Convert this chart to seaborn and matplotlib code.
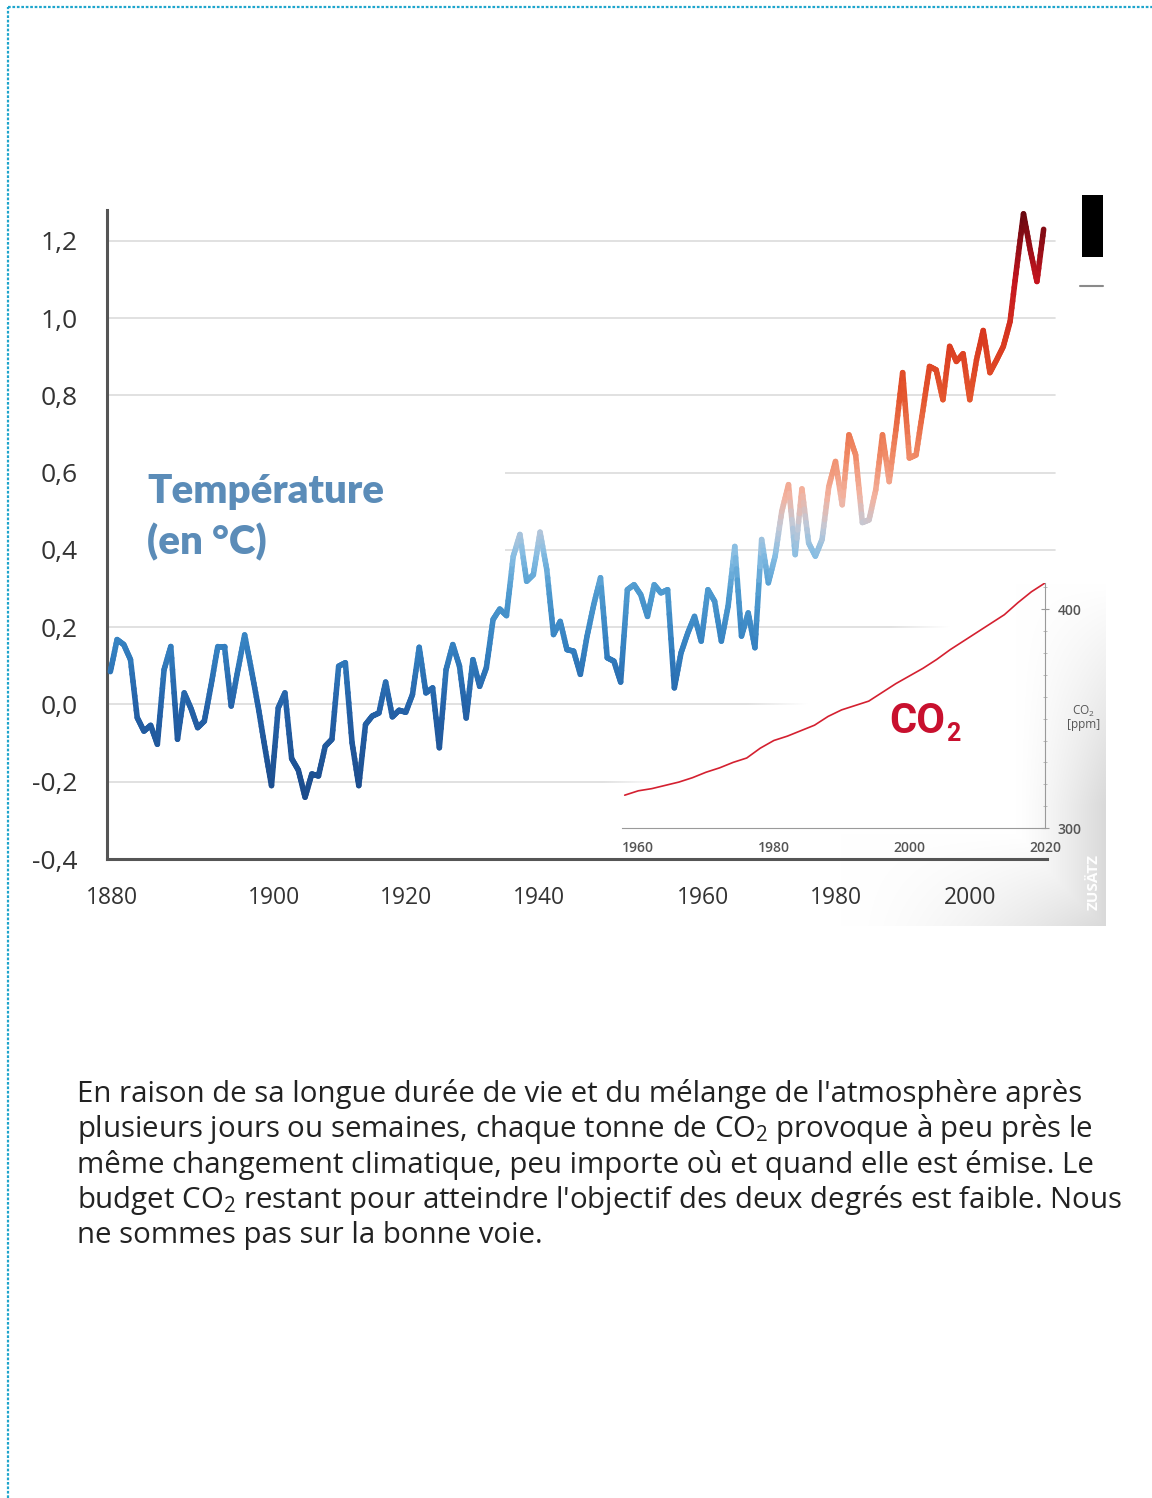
import numpy as np
import matplotlib
matplotlib.use("Agg")
import matplotlib.pyplot as plt
import seaborn as sns
from matplotlib.collections import LineCollection
from matplotlib.colors import LinearSegmentedColormap, Normalize
from matplotlib.patches import Rectangle
from matplotlib.lines import Line2D

# ── data ────────────────────────────────────────────────────────────────
years = list(range(1880, 2020))
temp_anomaly = [
    0.085, 0.168, 0.155, 0.116, -0.034, -0.069, -0.054, -0.103, 0.09, 0.15,
    -0.09, 0.03, -0.01, -0.06, -0.043, 0.05, 0.15, 0.15, -0.004, 0.09,
    0.18, 0.09, -0.004, -0.11, -0.21, -0.009, 0.03, -0.14, -0.17, -0.24,
    -0.18, -0.185, -0.108, -0.09, 0.099, 0.108, -0.099, -0.21, -0.052, -0.03,
    -0.022, 0.058, -0.032, -0.015, -0.02, 0.026, 0.148, 0.03, 0.043, -0.112,
    0.09, 0.155, 0.099, -0.035, 0.116, 0.047, 0.095, 0.22, 0.247, 0.23,
    0.383, 0.44, 0.319, 0.336, 0.446, 0.349, 0.181, 0.215, 0.142, 0.138,
    0.078, 0.177, 0.259, 0.328, 0.121, 0.112, 0.058, 0.297, 0.31, 0.284,
    0.228, 0.31, 0.289, 0.297, 0.043, 0.134, 0.185, 0.228, 0.164, 0.297,
    0.267, 0.164, 0.254, 0.409, 0.177, 0.237, 0.147, 0.427, 0.315, 0.383,
    0.50, 0.569, 0.388, 0.558, 0.418, 0.384, 0.427, 0.564, 0.629, 0.517,
    0.698, 0.646, 0.471, 0.478, 0.556, 0.698, 0.577, 0.711, 0.859, 0.638,
    0.646, 0.76, 0.875, 0.866, 0.789, 0.927, 0.888, 0.908, 0.789, 0.892,
    0.968, 0.859, 0.892, 0.927, 0.991, 1.133, 1.27, 1.177, 1.095, 1.23,
]

co2_years = [1958, 1960, 1962, 1964, 1966, 1968, 1970, 1972, 1974, 1976,
             1978, 1980, 1982, 1984, 1986, 1988, 1990, 1992, 1994, 1996,
             1998, 2000, 2002, 2004, 2006, 2008, 2010, 2012, 2014, 2016,
             2018, 2020]
co2_ppm = [315, 317, 318, 319.5, 321, 323, 325.5, 327.5, 330, 332,
           336.5, 340, 342, 344.5, 347, 351, 354, 356, 358, 362,
           366, 369.5, 373, 377, 381.5, 385.5, 389.5, 393.5, 397.5, 403,
           408, 412]

y_ticks = [-0.4, -0.3, -0.2, -0.1, 0.0, 0.1, 0.2, 0.3, 0.4, 0.5, 0.6,
           0.7, 0.8, 0.9, 1.0, 1.1, 1.2]
y_labels = ["-0,4", "", "-0,2", "", "0,0", "", "0,2", "", "0,4", "", "0,6",
            "", "0,8", "", "1,0", "", "1,2"]
grid_values = [-0.2, 0.0, 0.2, 0.4, 0.6, 0.8, 1.0, 1.2]
x_ticks = [1880, 1890, 1900, 1910, 1920, 1930, 1940, 1950, 1960, 1970,
           1980, 1990, 2000, 2010, 2020]
x_labels = ["1880", "1900", "1920", "1940", "1960", "1980", "2000"]

paragraph = [
    "En raison de sa longue durée de vie et du mélange de l'atmosphère après",
    "plusieurs jours ou semaines, chaque tonne de CO$_2$ provoque à peu près le",
    "même changement climatique, peu importe où et quand elle est émise. Le",
    "budget CO$_2$ restant pour atteindre l'objectif des deux degrés est faible. Nous",
    "ne sommes pas sur la bonne voie.",
]

# ── layout (reference pixels) ───────────────────────────────────────────
W, H = 1152, 1498
x_label_px = [112, 274, 406, 539, 703, 836, 970]


def px_x(px):
    return 1880 + (px - 107) / 6.714


def px_y(py):
    return (705 - py) / 386.7


sns.set_theme(style="white")
plt.rcParams["font.family"] = ["Open Sans", "DejaVu Sans"]
plt.rcParams["mathtext.fontset"] = "custom"
plt.rcParams["mathtext.rm"] = "Open Sans"
plt.rcParams["mathtext.it"] = "Open Sans:italic"
plt.rcParams["mathtext.bf"] = "Open Sans:bold"

fig = plt.figure(figsize=(W / 100, H / 100), dpi=100)
fig.patch.set_facecolor("white")

ax = fig.add_axes([107 / W, 1 - 859 / H, 940 / W, 649 / H])
ax.set_facecolor("none")
ax.set_axisbelow(False)
ax.grid(False)

for v in grid_values:
    ax.axhline(v, xmax=1.008, color="#dcdcdc", lw=1.2, zorder=0.5, clip_on=False)

# white box behind the label, hides the grid there
ax.add_patch(Rectangle((1880, px_y(570)), px_x(505) - 1880, px_y(460) - px_y(570),
                       facecolor="white", edgecolor="none", zorder=0.8))

# fade / grey shading behind the CO2 inset
gx0, gx1, gy0, gy1 = 600, 1105, 575, 927
X, Y = np.meshgrid(np.arange(gx0, gx1), np.arange(gy0, gy1))
d = (X - 622) + 1.85 * (Y - 782)
a_white = np.clip((d + 20) / 60, 0, 1)
t_side = np.clip((X - 1015) / 90, 0, 1) ** 1.3 * np.clip((Y - 585) / 220, 0, 1)
t_bot = np.clip((Y - 835) / 92, 0, 1) * np.clip((X - 840) / 265, 0, 1) ** 1.6
t = np.maximum(t_side, t_bot)
rgba = np.ones(X.shape + (4,))
rgba[..., :3] = (1 - 0.15 * t)[..., None]
rgba[..., 3] = np.maximum(a_white, np.clip(t * 4, 0, 1))
ax.imshow(rgba, extent=(px_x(gx0), px_x(gx1), px_y(gy1), px_y(gy0)),
          aspect="auto", interpolation="bilinear", zorder=1, clip_on=False)
ax.set_xlim(1880, 2020)
ax.set_ylim(-0.4, 1.28)

# temperature line, coloured by value (each segment split finely for a smooth gradient)
cmap = LinearSegmentedColormap.from_list("temp", [
    (0.00, "#1b4a8a"), (0.16, "#2462a8"), (0.26, "#3480c0"),
    (0.36, "#4f9bd0"), (0.42, "#86bde3"), (0.47, "#c3c9d6"),
    (0.52, "#f3b3a0"), (0.59, "#f08a66"), (0.69, "#e4562e"),
    (0.79, "#d9391f"), (0.89, "#c4141f"), (1.00, "#6a0810")])
norm = Normalize(-0.25, 1.27)
xs = np.array(years) + 0.5
ys = np.array(temp_anomaly)
frac = np.linspace(0, 1, 9)
sx = (xs[:-1, None] + (xs[1:] - xs[:-1])[:, None] * frac).ravel()
sy = (ys[:-1, None] + (ys[1:] - ys[:-1])[:, None] * frac).ravel()
pts = np.column_stack([sx, sy]).reshape(-1, 1, 2)
segs = np.concatenate([pts[:-1], pts[1:]], axis=1)
lc = LineCollection(segs, cmap=cmap, norm=norm, linewidths=4.0,
                    capstyle="round", joinstyle="round", zorder=3)
lc.set_array((sy[:-1] + sy[1:]) / 2)
ax.add_collection(lc)

for s in ["top", "right"]:
    ax.spines[s].set_visible(False)
for s in ["left", "bottom"]:
    ax.spines[s].set_color("#555555")
    ax.spines[s].set_linewidth(2.2)

ax.set_yticks(y_ticks)
ax.set_yticklabels(y_labels)
ax.set_xticks(x_ticks)
ax.tick_params(axis="y", direction="out", length=7, width=2.2, color="#555555",
               pad=14, labelsize=19, labelcolor="#333333")
ax.tick_params(axis="x", direction="out", length=8, width=2.2, color="#555555",
               labelbottom=False)

for lab, px in zip(x_labels, x_label_px):
    ax.text(px_x(px), px_y(899), lab, ha="center", va="center", fontsize=16.5,
            color="#333333", clip_on=False, zorder=5)

ax.text(px_x(147), px_y(503), "Température", fontsize=29, fontweight="heavy",
        color="#5b8cb8", family=["Lato", "DejaVu Sans"], va="baseline", zorder=4)
ax.text(px_x(147), px_y(555), "(en °C)", fontsize=29, fontweight="heavy",
        color="#5b8cb8", family=["Lato", "DejaVu Sans"], va="baseline", zorder=4)

# ── CO2 inset ───────────────────────────────────────────────────────────
axin = fig.add_axes([622 / W, 1 - 828 / H, 423 / W, 245 / H])
axin.set_facecolor("none")
sns.lineplot(x=co2_years, y=co2_ppm, ax=axin, color="#d42030", lw=1.2)
axin.set_xlim(1957.6, 2020)
axin.set_ylim(300, 412)
for s in ["top", "left"]:
    axin.spines[s].set_visible(False)
for s in ["bottom", "right"]:
    axin.spines[s].set_color("#9a9a9a")
    axin.spines[s].set_linewidth(0.8)
axin.yaxis.tick_right()
axin.set_xticks([1960, 1965, 1970, 1975, 1980, 1985, 1990, 1995, 2000,
                 2005, 2010, 2015, 2020])
axin.set_xticklabels(["1960", "", "", "", "1980", "", "", "", "2000",
                      "", "", "", "2020"])
axin.set_xticks(np.arange(1958, 2021, 1), minor=True)
axin.set_yticks([300, 400])
axin.set_yticks(np.arange(310, 411, 10), minor=True)
axin.tick_params(axis="x", which="major", direction="inout", length=6,
                 width=0.8, color="#9a9a9a", labelsize=10, labelcolor="#555555",
                 pad=6)
axin.tick_params(axis="y", which="major", direction="inout", length=6,
                 width=0.8, color="#9a9a9a", labelsize=10, labelcolor="#555555",
                 pad=6)
axin.tick_params(axis="both", which="minor", direction="inout", length=3,
                 width=0.6, color="#b0b0b0")
for lab in axin.get_xticklabels() + axin.get_yticklabels():
    lab.set_fontweight("semibold")
axin.set_xlabel("")
axin.set_ylabel("")
axin.text(1.09, 0.45, "CO$_2$\n[ppm]", transform=axin.transAxes, ha="center",
          va="center", fontsize=8.5, color="#555555", linespacing=0.9)
co_txt = axin.text(0.632, 0.435, "CO", transform=axin.transAxes, ha="left",
                   va="center", fontsize=30, fontweight="bold", color="#c8102e",
                   family=["Roboto", "DejaVu Sans"])
renderer = fig.canvas.get_renderer()
bb = co_txt.get_window_extent(renderer=renderer)
x_sub = axin.transAxes.inverted().transform((bb.x1 + 0.5, bb.y0))[0]
axin.text(x_sub, 0.385, "2", transform=axin.transAxes, ha="left", va="center",
          fontsize=18, fontweight="bold", color="#c8102e",
          family=["Roboto", "DejaVu Sans"])
axin.text(1.115, -0.22, "ZUSÄTZ", transform=axin.transAxes, rotation=90,
          ha="center", va="center", fontsize=11, fontweight="bold",
          color="white", zorder=5)

# ── decorations ─────────────────────────────────────────────────────────
fig.patches.append(Rectangle((1082 / W, 1 - 257 / H), 21 / W, 62 / H,
                             transform=fig.transFigure, facecolor="black",
                             edgecolor="none"))
fig.lines.append(Line2D([1080 / W, 1103 / W], [1 - 286 / H, 1 - 286 / H],
                        transform=fig.transFigure, color="#8a8a8a", lw=1.5))
fig.lines.append(Line2D([8 / W, 1.0], [1 - 7 / H, 1 - 7 / H],
                        transform=fig.transFigure, color="#1ea5cc", lw=1.6,
                        linestyle=(0, (1.2, 0.8))))
fig.lines.append(Line2D([8 / W, 8 / W], [0, 1 - 7 / H],
                        transform=fig.transFigure, color="#1ea5cc", lw=1.6,
                        linestyle=(0, (1.2, 0.8))))

for i, line in enumerate(paragraph):
    fig.text(77 / W, 1 - (1102 + 35.3 * i) / H, line, fontsize=21.2,
             color="#222222", ha="left", va="baseline")

fig.savefig("out.png", dpi=100, facecolor="white")
plt.close(fig)
